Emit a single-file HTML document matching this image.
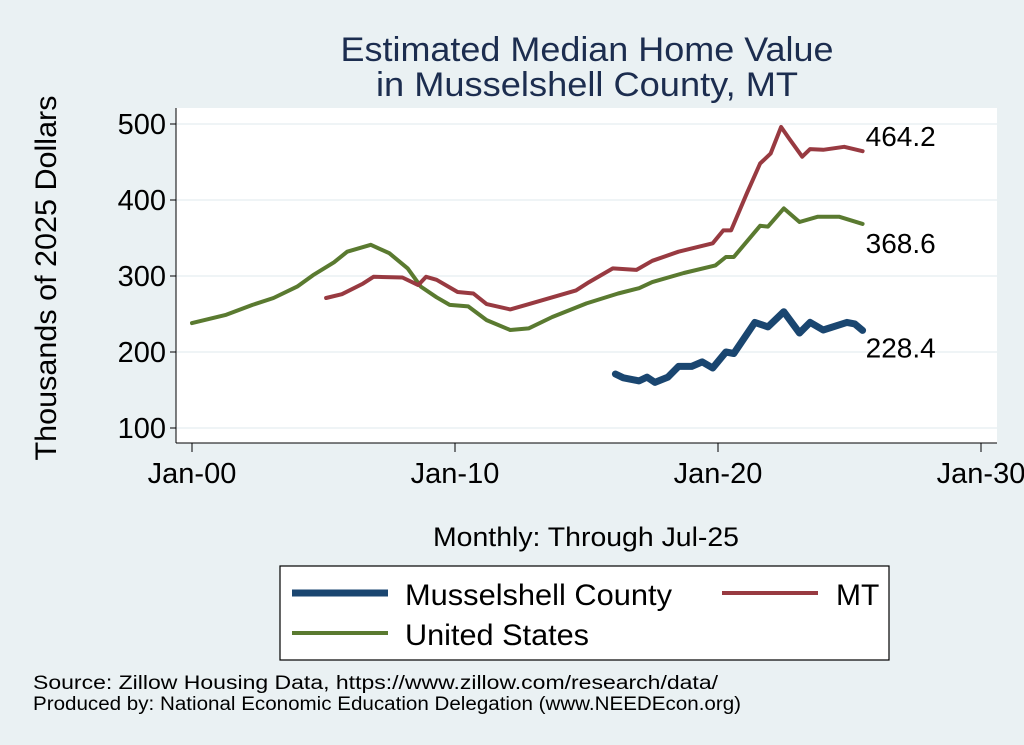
<!DOCTYPE html>
<html><head><meta charset="utf-8"><style>
html,body{margin:0;padding:0;background:#eaf1f3;}
svg{display:block;font-family:"Liberation Sans",Arial,sans-serif;}
</style></head><body>
<svg id="chart" width="1024" height="745" viewBox="0 0 1024 745">
<rect x="0" y="0" width="1024" height="745" fill="#eaf1f3"/>
<text x="587" y="61" font-size="34" fill="#1c2d4f" text-anchor="middle" textLength="493" lengthAdjust="spacingAndGlyphs">Estimated Median Home Value</text>
<text x="587" y="96" font-size="34" fill="#1c2d4f" text-anchor="middle" textLength="422" lengthAdjust="spacingAndGlyphs">in Musselshell County, MT</text>
<rect x="176" y="108" width="821" height="335" fill="#ffffff"/>
<g id="grid"></g>
<g id="axes"></g>
<g id="series"></g>
<text x="56" y="278" font-size="30" fill="#000" text-anchor="middle" transform="rotate(-90 56 278)" textLength="365" lengthAdjust="spacingAndGlyphs">Thousands of 2025 Dollars</text>
<text x="586" y="546" font-size="27" fill="#000" text-anchor="middle" textLength="306" lengthAdjust="spacingAndGlyphs">Monthly: Through Jul-25</text>
<g>
<rect x="280" y="566" width="609" height="94" fill="#fff" stroke="#000" stroke-width="1.2"/>
<line x1="292" y1="593" x2="388" y2="593" stroke="#1a4670" stroke-width="7"/>
<text x="405" y="605" font-size="30" fill="#000" textLength="267" lengthAdjust="spacingAndGlyphs">Musselshell County</text>
<line x1="722" y1="593" x2="818" y2="593" stroke="#983a41" stroke-width="4"/>
<text x="836" y="605" font-size="30" fill="#000">MT</text>
<line x1="292" y1="633" x2="388" y2="633" stroke="#5a7a30" stroke-width="4"/>
<text x="405" y="645" font-size="30" fill="#000" textLength="184" lengthAdjust="spacingAndGlyphs">United States</text>
</g>
<text x="33" y="689" font-size="19" fill="#000" textLength="685" lengthAdjust="spacingAndGlyphs">Source: Zillow Housing Data, https://www.zillow.com/research/data/</text>
<text x="33" y="710" font-size="19" fill="#000" textLength="708" lengthAdjust="spacingAndGlyphs">Produced by: National Economic Education Delegation (www.NEEDEcon.org)</text>
</svg>
<script>
const yTicks=[100,200,300,400,500];
const xTickYears=[2000,2010,2020,2030];
const xTickLabels=["Jan-00","Jan-10","Jan-20","Jan-30"];
const usDates=[2000.0,2001.3,2002.3,2003.1,2004.0,2004.6,2005.4,2005.9,2006.8,2007.5,2008.2,2008.7,2009.3,2009.8,2010.5,2011.2,2012.1,2012.8,2013.7,2015.0,2016.2,2017.0,2017.5,2018.7,2019.9,2020.3,2020.6,2021.6,2021.9,2022.5,2023.1,2023.8,2024.6,2025.5];
const usValues=[238,249,262,271,286,301,318,332,341,330,310,286,272,262,260,242,229,231,246,264,277,284,292,304,314,325,325,366,365,389,371,378,378,368.6];
const mtDates=[2005.1,2005.7,2006.5,2006.9,2008.0,2008.6,2008.9,2009.3,2010.1,2010.7,2011.2,2012.1,2012.7,2013.7,2014.6,2015.1,2016.0,2016.9,2017.5,2018.5,2019.8,2020.2,2020.5,2021.1,2021.6,2022.0,2022.4,2022.7,2023.2,2023.5,2024.0,2024.8,2025.5];
const mtValues=[271,276,290,299,298,288,299,295,279,277,263,256,262,272,281,292,310,308,320,332,343,360,360,409,448,461,496,481,457,467,466,470,464.2];
const cntDates=[2016.1,2016.4,2017.0,2017.3,2017.6,2018.1,2018.5,2019.0,2019.4,2019.8,2020.3,2020.6,2021.4,2021.9,2022.5,2023.1,2023.5,2024.0,2024.9,2025.2,2025.5];
const cntValues=[171,166,162,167,160,167,181,181,187,179,200,198,239,233,253,225,239,229,239,237,228.4];
const endLabels=["464.2","368.6","228.4"];

const NS="http://www.w3.org/2000/svg";
function xs(t){return 192+(t-2000)*26.3;}
function ys(v){return 428-(v-100)*0.76;}
function mk(tag,attrs,parent){const e=document.createElementNS(NS,tag);for(const k in attrs)e.setAttribute(k,attrs[k]);parent.appendChild(e);return e;}
const grid=document.getElementById('grid'),axes=document.getElementById('axes'),ser=document.getElementById('series');
yTicks.forEach(v=>{
  const g=mk('line',{x1:176,x2:997,y1:ys(v),y2:ys(v),stroke:'#eaf1f3','stroke-width':1.5},grid);
  
  
  const t=mk('line',{x1:170,x2:176,y1:ys(v),y2:ys(v),stroke:'#000','stroke-width':1},axes);
  
  
  const l=mk('text',{x:166,y:ys(v)+10,'font-size':29,'text-anchor':'end',fill:'#000'},axes);
  l.textContent=v;
  
  
});
xTickYears.forEach((yr,i)=>{
  const t=mk('line',{x1:xs(yr),x2:xs(yr),y1:443,y2:452,stroke:'#000','stroke-width':1},axes);
  
  
  const l=mk('text',{x:xs(yr),y:483,'font-size':29,'text-anchor':'middle',fill:'#000'},axes);
  l.textContent=xTickLabels[i];
  
  
});
const ax1=mk('line',{x1:176,x2:176,y1:108,y2:443,stroke:'#000','stroke-width':1},axes);


const ax2=mk('line',{x1:176,x2:997,y1:443,y2:443,stroke:'#000','stroke-width':1},axes);


function line(d,v,color,w,name){
  const pts=d.map((t,i)=>xs(t).toFixed(1)+','+ys(v[i]).toFixed(1)).join(' ');
  const p=mk('polyline',{points:pts,fill:'none',stroke:color,'stroke-width':w,'stroke-linejoin':'round','stroke-linecap':'round'},ser);
  
  
}
line(usDates,usValues,'#5a7a30',4,'us-line');
line(mtDates,mtValues,'#983a41',4,'mt-line');
line(cntDates,cntValues,'#1a4670',7,'musselshell-line');
const ends=[[mtDates,mtValues,-1],[usDates,usValues,33],[cntDates,cntValues,31]];
ends.forEach((e,i)=>{
  const d=e[0],v=e[1];
  const l=mk('text',{x:xs(d[d.length-1])+3,y:ys(v[v.length-1])+e[2]-4,'font-size':28,fill:'#000'},ser);
  l.textContent=endLabels[i];
  
  
});
</script>
</body></html>
